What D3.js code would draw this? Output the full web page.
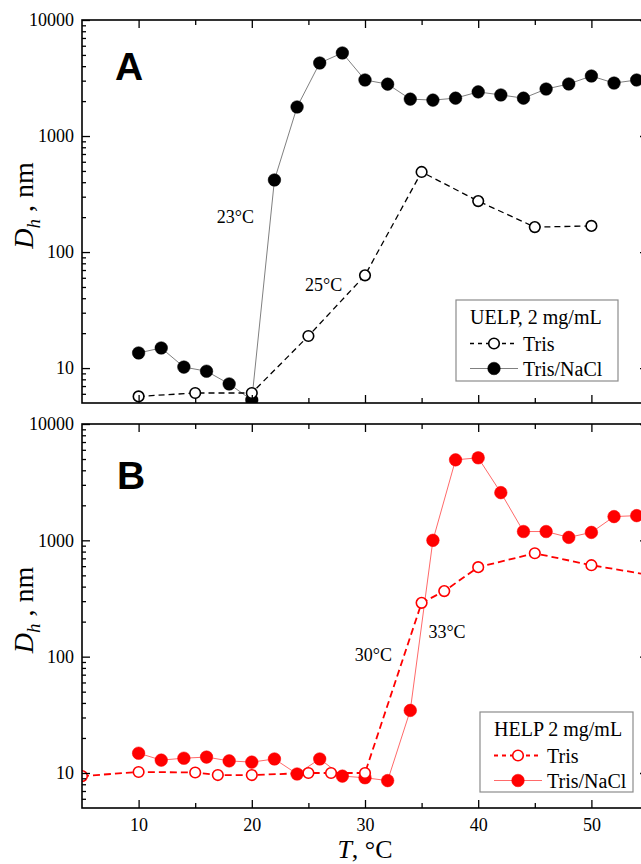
<!DOCTYPE html>
<html>
<head>
<meta charset="utf-8">
<script src="https://cdn.jsdelivr.net/npm/d3@7"></script>
<style>
  html, body { margin: 0; padding: 0; background: #fff; overflow: hidden; }
  svg { display: block; }
  text { font-family: "Liberation Serif", "Times New Roman", serif; fill: #000; }
  text.letter { font-family: "Liberation Sans", Arial, sans-serif; font-weight: bold; }
</style>
</head>
<body>
<svg id="chart" width="641" height="864"></svg>
<script>
// ---- data (T in °C, Dh in nm) ----
// Panel A: UELP, 2 mg/mL
const uelpTrisT = [10, 15, 20, 25, 30, 35, 40, 45, 50];
const uelpTrisD = [5.7, 6.1, 6.1, 18.9, 63, 490, 275, 164, 168];
const uelpNaclT = [10, 12, 14, 16, 18, 20, 22, 24, 26, 28, 30, 32, 34, 36, 38, 40, 42, 44, 46, 48, 50, 52, 54];
const uelpNaclD = [13.5, 14.9, 10.2, 9.4, 7.3, 5.3, 418, 1780, 4260, 5200, 3040, 2800, 2080, 2040, 2120, 2400, 2260, 2120, 2540, 2810, 3290, 2860, 3040];

// Panel B: HELP 2 mg/mL
const helpTrisT = [5, 10, 15, 17, 20, 25, 27, 30, 35, 37, 40, 45, 50, 55];
const helpTrisD = [9.4, 10.2, 10.1, 9.6, 9.6, 10, 10, 10, 290, 366, 588, 774, 611, 506];
const helpNaclT = [10, 12, 14, 16, 18, 20, 22, 24, 26, 28, 30, 32, 34, 36, 38, 40, 42, 44, 46, 48, 50, 52, 54];
const helpNaclD = [14.8, 12.9, 13.4, 13.7, 12.7, 12.4, 13.2, 9.8, 13.2, 9.4, 9.1, 8.6, 34.5, 1000, 4920, 5120, 2570, 1190, 1190, 1060, 1170, 1600, 1630];

// axis ticks
const xMajor = [10, 20, 30, 40, 50];
const xMinor = [15, 25, 35, 45];
const yMajor = [10, 100, 1000, 10000];
const yMinor = [];
[1, 10, 100, 1000].forEach(dec => {
  for (let k = 2; k <= 9; k++) {
    if (dec * k > 5) yMinor.push(dec * k);
  }
});

const serif = '"Liberation Serif", "Times New Roman", serif';
const left = 82, right = 648; // right frame falls just outside the picture

const svg = d3.select('#chart');

const panels = [
  {
    id: 'A', top: 20, bottom: 403, showX: false,
    letterPos: [115, 80],
    legendTitle: 'UELP, 2 mg/mL',
    legendBox: [456, 300, 162, 81],
    notes: [{ t: 16.9, d: 178, text: '23°C' }, { t: 24.7, d: 46, text: '25°C' }],
    series: [
      { label: 'Tris', t: uelpTrisT, d: uelpTrisD, line: '#000', lw: 1.3, dash: '6,4', color: '#000', filled: false },
      { label: 'Tris/NaCl', t: uelpNaclT, d: uelpNaclD, line: '#808080', lw: 1, dash: null, color: '#000', filled: true }
    ]
  },
  {
    id: 'B', top: 424, bottom: 808, showX: true,
    letterPos: [117, 489],
    legendTitle: 'HELP 2 mg/mL',
    legendBox: [480, 712, 153, 80],
    notes: [{ t: 29.1, d: 92, text: '30°C' }, { t: 35.6, d: 145, text: '33°C' }],
    series: [
      { label: 'Tris', t: helpTrisT, d: helpTrisD, line: '#ff0000', lw: 1.8, dash: '7,4', color: '#ff0000', filled: false },
      { label: 'Tris/NaCl', t: helpNaclT, d: helpNaclD, line: '#ff6a6a', lw: 1, dash: null, color: '#ff0000', filled: true }
    ]
  }
];

const styleAxis = sel => {
  sel.attr('font-family', serif).attr('font-size', 18);
  sel.select('.domain').remove();
  sel.selectAll('line').attr('stroke', '#000').attr('stroke-width', 1.3);
  sel.selectAll('text').attr('fill', '#000');
};

const drawMarker = (sel, s, r) => {
  sel.attr('r', s.filled ? r : r - 1)
    .attr('fill', s.filled ? s.color : '#fff')
    .attr('stroke', s.color)
    .attr('stroke-width', s.filled ? 0.5 : 1.6);
};

panels.forEach(p => {
  const x = d3.scaleLinear().domain([5, 55]).range([left, right]);
  const y = d3.scaleLog().domain([5, 10000]).range([p.bottom, p.top]);
  const g = svg.append('g');

  const clipId = 'clip-' + p.id;
  svg.append('clipPath').attr('id', clipId)
    .append('rect')
      .attr('x', left).attr('y', p.top)
      .attr('width', right - left).attr('height', p.bottom - p.top);

  // series (Tris/NaCl underneath, Tris on top)
  const plot = g.append('g').attr('clip-path', `url(#${clipId})`);
  p.series.slice().reverse().forEach(s => {
    const pts = s.t.map((t, i) => ({ t, d: s.d[i] }));
    plot.append('path')
      .datum(pts)
      .attr('fill', 'none')
      .attr('stroke', s.line)
      .attr('stroke-width', s.lw)
      .attr('stroke-dasharray', s.dash)
      .attr('d', d3.line().x(d => x(d.t)).y(d => y(d.d)));
    plot.selectAll(null)
      .data(pts)
      .enter()
      .append('circle')
        .attr('cx', d => x(d.t))
        .attr('cy', d => y(d.d))
        .call(drawMarker, s, 6.3);
  });

  // axes, all ticks pointing inward
  g.append('g').attr('transform', `translate(0,${p.bottom})`)
    .call(d3.axisBottom(x).tickValues(xMajor).tickSize(-8).tickPadding(10)
      .tickFormat(p.showX ? d3.format('d') : ''))
    .call(styleAxis);
  g.append('g').attr('transform', `translate(0,${p.bottom})`)
    .call(d3.axisBottom(x).tickValues(xMinor).tickSize(-5).tickFormat(''))
    .call(styleAxis);
  g.append('g').attr('transform', `translate(0,${p.top})`)
    .call(d3.axisTop(x).tickValues(xMajor).tickSize(-8).tickFormat(''))
    .call(styleAxis);
  g.append('g').attr('transform', `translate(0,${p.top})`)
    .call(d3.axisTop(x).tickValues(xMinor).tickSize(-5).tickFormat(''))
    .call(styleAxis);
  g.append('g').attr('transform', `translate(${left},0)`)
    .call(d3.axisLeft(y).tickValues(yMajor).tickSize(-8).tickPadding(8).tickFormat(d3.format('d')))
    .call(styleAxis);
  g.append('g').attr('transform', `translate(${left},0)`)
    .call(d3.axisLeft(y).tickValues(yMinor).tickSize(-4).tickFormat(''))
    .call(styleAxis);
  g.append('g').attr('transform', `translate(${right},0)`)
    .call(d3.axisRight(y).tickValues(yMajor).tickSize(-8).tickFormat(''))
    .call(styleAxis);
  g.append('g').attr('transform', `translate(${right},0)`)
    .call(d3.axisRight(y).tickValues(yMinor).tickSize(-4).tickFormat(''))
    .call(styleAxis);

  g.append('rect')
    .attr('x', left).attr('y', p.top)
    .attr('width', right - left).attr('height', p.bottom - p.top)
    .attr('fill', 'none').attr('stroke', '#000').attr('stroke-width', 1.6);

  // y title
  const yl = g.append('text')
    .attr('transform', `translate(33,${(p.top + p.bottom) / 2 - 6}) rotate(-90)`)
    .attr('text-anchor', 'middle')
    .attr('font-size', 28);
  yl.append('tspan').attr('font-style', 'italic').text('D');
  yl.append('tspan').attr('font-style', 'italic').attr('font-size', 19).attr('dy', 7).text('h');
  yl.append('tspan').attr('dy', -7).text(' , nm');

  // panel letter
  g.append('text')
    .attr('class', 'letter')
    .attr('x', p.letterPos[0]).attr('y', p.letterPos[1])
    .attr('font-size', 39)
    .text(p.id);

  // transition temperatures
  g.selectAll(null)
    .data(p.notes)
    .enter()
    .append('text')
      .attr('x', d => x(d.t))
      .attr('y', d => y(d.d))
      .attr('font-size', 18)
      .text(d => d.text);

  // legend
  const [lx, ly, lw, lh] = p.legendBox;
  const lg = g.append('g').attr('transform', `translate(${lx},${ly})`);
  lg.append('rect')
    .attr('width', lw).attr('height', lh)
    .attr('fill', '#fff').attr('stroke', '#8c8c8c').attr('stroke-width', 1.2);
  lg.append('text').attr('x', 14).attr('y', 24).attr('font-size', 20).text(p.legendTitle);
  p.series.forEach((s, i) => {
    const ry = 43.5 + i * 25;
    lg.append('line')
      .attr('x1', 14).attr('x2', 62).attr('y1', ry).attr('y2', ry)
      .attr('stroke', s.line).attr('stroke-width', s.lw)
      .attr('stroke-dasharray', s.dash ? '4,4' : null);
    lg.append('circle').attr('cx', 38).attr('cy', ry).call(drawMarker, s, 6.3);
    lg.append('text').attr('x', 67).attr('y', ry + 7).attr('font-size', 20).text(s.label);
  });
});

// shared x title
const xl = svg.append('text')
  .attr('x', (left + right) / 2)
  .attr('y', 858)
  .attr('text-anchor', 'middle')
  .attr('font-size', 26);
xl.append('tspan').attr('font-style', 'italic').text('T');
xl.append('tspan').text(', °C');
</script>
</body>
</html>
